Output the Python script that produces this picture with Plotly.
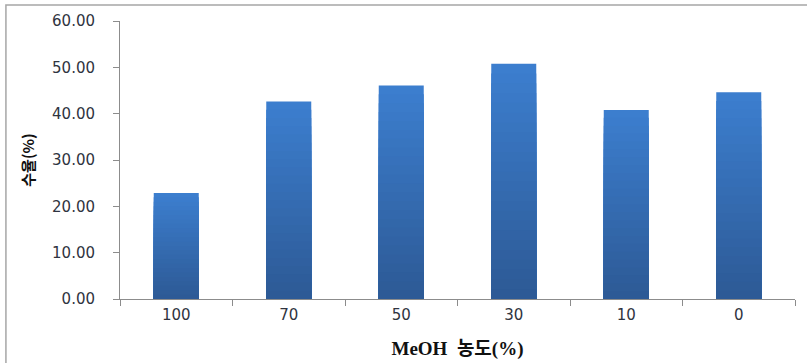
import plotly.graph_objects as go

categories = ["100", "70", "50", "30", "10", "0"]
yield_pct = [22.9, 42.6, 46.1, 50.8, 40.8, 44.6]
y_ticks = [0, 10, 20, 30, 40, 50, 60]
y_tick_labels = ["0.00", "10.00", "20.00", "30.00", "40.00", "50.00", "60.00"]

top_rgb = (60, 126, 206)
bottom_rgb = (45, 90, 150)
steps = 24

fig = go.Figure()
for k in range(steps):
    frac = k / steps
    t = k / (steps - 1)
    col = tuple(round(top_rgb[i] + (bottom_rgb[i] - top_rgb[i]) * t) for i in range(3))
    fig.add_trace(go.Bar(
        x=categories,
        y=[v * (1 - frac) for v in yield_pct],
        width=0.4,
        marker=dict(color="rgb(%d,%d,%d)" % col, line=dict(width=0)),
        showlegend=False,
        hoverinfo="skip" if k > 0 else None,
    ))

fig.update_layout(
    width=807, height=363,
    margin=dict(l=120, r=12, t=21, b=64),
    paper_bgcolor="white", plot_bgcolor="white",
    barmode="overlay",
    font=dict(family="DejaVu Sans", size=15, color="#2f3440"),
    xaxis=dict(
        type="category",
        automargin=False,
        showline=True, linecolor="#8c8c8c", linewidth=1,
        ticks="outside", tickson="boundaries", ticklen=6, tickcolor="#8c8c8c",
        tickfont=dict(family="DejaVu Sans", size=15, color="#2f3440"),
        ticklabelstandoff=2,
        showgrid=False, zeroline=False,
        title=dict(text="<b>MeOH  농도(%)</b>",
                   font=dict(family="Liberation Serif, Noto Sans CJK KR", size=19, color="#111111"),
                   standoff=18),
    ),
    yaxis=dict(
        range=[0, 60],
        automargin=False,
        tickvals=y_ticks, ticktext=y_tick_labels,
        showline=True, linecolor="#8c8c8c", linewidth=1,
        ticks="outside", ticklen=6, tickcolor="#8c8c8c",
        tickfont=dict(family="DejaVu Sans", size=15, color="#2f3440"),
        ticklabelstandoff=15,
        showgrid=False, zeroline=False,
        title=dict(text="<b>수율(%)</b>",
                   font=dict(family="Noto Sans CJK KR", size=15, color="#111111"),
                   standoff=13),
    ),
    shapes=[dict(type="rect", xref="paper", yref="paper",
                 x0=-0.169, x1=1.05, y0=-0.5, y1=1.0576,
                 line=dict(color="#a6a6a6", width=1.5), layer="below")],
)

fig.write_html("out.html")
